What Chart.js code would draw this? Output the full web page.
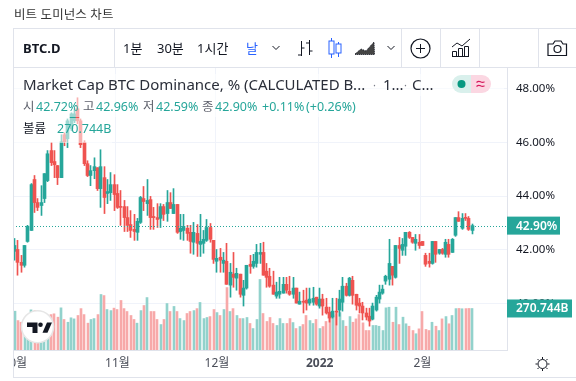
<!DOCTYPE html>
<html>
<head>
<meta charset="UTF-8" />
<title>비트 도미넌스 차트</title>
<script src="https://cdn.jsdelivr.net/npm/chart.js"></script>
<style>
  html, body { margin: 0; padding: 0; background: #fff; }
  body { width: 576px; height: 381px; overflow: hidden; position: relative; font-family: "Noto Sans", "Noto Sans CJK KR", sans-serif; color: #131722; }
  canvas { position: absolute; left: 13px; top: 0; }
  .abs { position: absolute; white-space: nowrap; }
  .line { position: absolute; background: #e0e3eb; }
  .tb { top: 39px; font-size: 13px; line-height: 18px; }
  .row { position: absolute; left: 14px; background: rgba(255,255,255,.55); white-space: nowrap; }
  .row span { position: absolute; top: 0; white-space: nowrap; }
  .v { color: #26a69a; }
  .k { color: #5d606b; }
  svg { position: absolute; overflow: visible; }
</style>
</head>
<body>
<canvas id="chart" width="563" height="378"></canvas>

<div class="abs" style="left:14px;top:6px;font-size:12.5px;line-height:18px;letter-spacing:.1px;color:#333">비트 도미넌스 차트</div>

<div class="line" style="left:13px;top:28px;width:563px;height:1px"></div>
<div class="line" style="left:13px;top:67px;width:563px;height:1px"></div>
<div class="line" style="left:13px;top:28px;width:1px;height:350px"></div>
<div class="line" style="left:13px;top:377px;width:563px;height:1px"></div>
<div class="line" style="left:114px;top:28px;width:1px;height:39px"></div>
<div class="line" style="left:401px;top:28px;width:1px;height:39px"></div>
<div class="line" style="left:440px;top:28px;width:1px;height:39px"></div>
<div class="line" style="left:479px;top:28px;width:1px;height:39px"></div>
<div class="line" style="left:538px;top:28px;width:1px;height:39px"></div>

<div class="abs tb" style="left:23px;font-weight:700">BTC.D</div>
<div class="abs tb" style="left:123px">1분</div>
<div class="abs tb" style="left:157px">30분</div>
<div class="abs tb" style="left:197px">1시간</div>
<div class="abs tb" style="left:246px;color:#2962ff">날</div>

<svg style="left:0;top:0" width="576" height="68" fill="none" stroke="#131722" stroke-width="1">
  <path d="M272.5 46l3.5 3.5 3.5-3.5"/>
  <path d="M301.5 41v15M298 55h3.5M301.5 48h3M309.5 40v15M306 43h3.5M309.5 51h3"/>
  <g stroke="#2962ff"><path d="M331.500 38v20M338.500 42v15"/><rect x="329" y="41" width="5" height="13" fill="#fff"/><rect x="336" y="44" width="5" height="9" fill="#fff"/></g>
  <path d="M355 54l6-5 5 2 8-9 .5 12.500h-19.500z" fill="#444" stroke-dasharray="1 1"/>
  <path d="M387.500 46l3.500 3.500 3.500-3.500"/>
  <circle cx="420.500" cy="48.500" r="9.500" stroke-width="1.200"/>
  <path d="M420.500 44v9M416 48.500h9"/>
  <path d="M452 47l5-4 5 3 8-7M452.500 56.500v-5h4v5M458.500 56.500v-8h4v8M464.500 56.500v-10h4v10M452 56.500h17"/>
  <path d="M548 44h5l2-3h6l2 3h3.500v11.500h-18.500z" stroke-width="1.200"/>
  <circle cx="557.500" cy="49" r="3.500" stroke-width="1.200"/>
</svg>

<div class="row" style="top:74px;width:490px;height:22px;font-size:15px;line-height:21px">
  <span style="left:9px;color:#2a2e39">Market Cap BTC Dominance, % (CALCULATED B...</span>
  <span style="left:359px;color:#787b86;font-size:11px">·</span>
  <span style="left:369px;color:#2a2e39">1...</span>
  <span style="left:390px;color:#787b86;font-size:11px">·</span>
  <span style="left:398px;color:#2a2e39">C...</span>
</div>
<div class="row" style="top:96px;width:345px;height:21px;font-size:12.5px;line-height:21px">
  <span class="k" style="left:9px">시</span><span class="v" style="left:22px">42.72%</span>
  <span class="k" style="left:69px">고</span><span class="v" style="left:82px">42.96%</span>
  <span class="k" style="left:129px">저</span><span class="v" style="left:142px">42.59%</span>
  <span class="k" style="left:188px">종</span><span class="v" style="left:201px">42.90%</span>
  <span class="v" style="left:248px">+0.11%</span><span class="v" style="left:292px">(+0.26%)</span>
</div>
<div class="row" style="top:118px;width:98px;height:25px;font-size:12.5px;line-height:22px">
  <span style="left:9px">볼륨</span><span class="v" style="left:43px">270.744B</span>
</div>

<svg style="left:0;top:0" width="576" height="381">
  <path d="M461 75h10v18h-10a9 9 0 0 1 0-18z" fill="#d9f0ec"/>
  <path d="M471 75h11a9 9 0 0 1 0 18h-11z" fill="#fbd7e2"/>
  <circle cx="461.500" cy="84" r="4" fill="#089981"/>
  <path d="M476.500 82.500q2-2 4-.7t4 0M476.500 86.500q2-2 4-.7t4 0" fill="none" stroke="#d6195d" stroke-width="1.200"/>
  <circle cx="37.500" cy="326.700" r="16" fill="#fff" stroke="#e6e6e6" stroke-width="1.500"/>
  <path d="M27 322.500h10.500v10.500h-5v-6H27z" fill="#131722"/>
  <circle cx="40.500" cy="324.800" r="2.300" fill="#131722"/>
  <path d="M42.500 332.800l4.500-10.300h5l-4.500 10.300z" fill="#131722"/>
  <g fill="none" stroke="#131722" stroke-width="1">
    <circle cx="542.500" cy="364" r="4.500"/>
    <path d="M542.500 357v2M542.500 369v2M535.500 364h2M547.500 364h2M537.500 359l1.500 1.500M546 367.500l1.500 1.500M537.500 369l1.500-1.500M546 360.500l1.500-1.500"/>
  </g>
</svg>

<script>
  // Daily candles from Oct 1.
  const opens = [
    41.94,42.01,41.53,41.42,42.31,42.72,44.62,43.76,43.65,43.91,
    44.58,45.70,45.29,45.14,44.69,46.29,46.14,46.51,46.81,47.26,
    46.81,46.00,45.21,44.77,44.95,45.06,44.28,44.69,44.10,44.13,
    44.43,44.10,43.61,43.61,43.20,42.94,42.76,42.65,43.02,43.91,
    43.72,43.87,43.24,43.20,43.17,43.61,43.35,43.76,43.35,43.69,
    42.68,42.72,42.80,42.65,42.28,42.61,42.20,42.24,42.35,42.83,
    42.35,41.57,41.72,41.49,41.57,40.68,41.09,40.94,41.09,40.30,
    40.57,41.46,41.38,41.49,41.83,41.90,41.20,41.01,40.68,40.27,
    40.34,40.38,40.71,40.45,40.34,40.57,39.97,40.08,40.12,40.01,
    40.04,40.23,39.90,40.16,39.86,39.67,39.49,39.71,39.75,40.04,
    40.64,40.30,40.86,40.34,40.01,39.90,39.64,39.52,39.41,39.75,
    40.16,40.38,40.83,40.90,41.38,40.97,42.16,41.98,42.13,42.65,
    42.46,42.24,42.28,42.31,41.79,41.57,41.49,42.31,41.87,42.01,
    41.83,42.20,41.90,42.54,43.20,42.80,43.20,43.17,42.72
  ];
  const highs = [
    42.42,42.35,41.79,42.16,42.91,44.47,44.77,43.91,44.39,44.84,
    45.70,46.00,45.70,45.14,46.29,46.36,46.88,47.11,47.26,47.67,
    46.88,46.07,45.32,45.14,45.43,45.06,45.73,45.10,44.62,44.88,
    44.80,44.43,44.21,43.84,43.61,43.46,43.32,43.17,43.99,44.36,
    44.62,43.99,43.58,43.72,43.72,43.69,44.21,44.13,44.28,43.69,
    43.32,43.32,42.91,42.91,43.02,42.94,43.32,42.72,43.13,42.98,
    42.35,42.01,42.05,41.90,42.24,41.49,41.90,41.31,41.09,40.86,
    41.42,41.79,41.83,42.20,42.24,42.28,41.49,41.31,41.20,40.79,
    40.97,40.97,40.97,41.01,40.97,40.57,40.42,40.49,40.57,40.57,
    40.60,40.23,40.57,40.34,40.19,39.86,40.19,40.19,40.49,40.97,
    40.75,40.97,41.01,40.34,40.19,40.04,39.82,39.82,40.01,40.30,
    40.68,40.68,41.05,42.39,41.38,42.16,42.46,42.42,42.65,42.68,
    42.46,42.57,42.57,42.31,41.87,41.87,42.31,42.31,42.01,42.05,
    42.39,42.39,42.42,43.20,43.42,43.35,43.35,43.24,42.96
  ];
  const lows = [
    41.61,41.05,41.16,41.35,42.28,42.72,43.39,43.46,43.28,43.76,
    44.54,45.14,44.69,44.43,44.69,45.88,45.81,46.44,46.74,46.70,
    45.81,45.14,44.73,44.39,44.65,44.21,43.58,43.35,43.72,43.84,
    43.46,43.54,42.91,42.68,42.68,42.46,42.35,42.35,42.98,43.46,
    43.28,42.76,42.76,42.83,42.83,43.09,43.06,43.54,43.35,42.61,
    42.39,42.35,42.35,41.87,41.83,41.75,41.75,41.87,42.31,42.28,
    41.49,41.16,41.16,41.16,40.71,40.23,40.60,40.49,40.23,39.90,
    40.53,41.12,41.31,41.35,41.49,41.05,40.60,40.60,40.34,40.19,
    40.19,40.38,40.38,40.30,40.19,40.01,39.97,39.64,39.75,39.93,
    39.93,39.93,39.82,39.56,39.60,39.30,39.45,39.19,39.52,39.71,
    40.27,40.27,39.97,39.75,39.64,39.38,39.38,39.15,39.38,39.71,
    40.01,40.34,40.71,40.68,40.68,40.94,41.49,41.79,41.79,42.42,
    42.24,41.98,42.05,42.16,41.38,41.35,41.46,41.53,41.83,41.83,
    41.72,41.72,41.90,42.50,43.06,42.76,43.09,42.72,42.59
  ];
  const closes = [
    42.16,41.53,41.42,42.16,42.87,44.43,43.76,43.58,43.76,44.84,
    45.58,45.25,45.17,44.69,46.03,46.03,46.81,47.07,47.07,46.81,
    45.92,45.21,44.77,44.95,45.10,44.28,45.10,43.95,44.17,44.43,
    44.06,43.58,43.58,43.20,42.91,42.72,42.68,43.06,43.95,43.80,
    43.84,43.20,43.20,43.13,43.61,43.32,43.76,43.54,43.69,42.65,
    42.80,42.87,42.61,42.31,42.65,42.24,42.31,42.39,42.83,42.39,
    41.64,41.68,41.61,41.61,40.71,41.16,40.97,41.12,40.34,40.57,
    41.42,41.38,41.57,41.90,41.90,41.05,40.97,40.64,40.34,40.42,
    40.45,40.71,40.49,40.34,40.57,40.01,40.08,40.04,40.01,40.16,
    40.19,39.97,40.16,39.90,39.64,39.45,39.71,39.67,40.16,40.64,
    40.30,40.94,40.30,39.93,39.90,39.64,39.49,39.34,39.90,40.23,
    40.42,40.53,41.01,41.49,41.05,42.16,42.05,42.20,42.65,42.46,
    42.28,42.39,42.16,42.16,41.46,41.49,42.31,41.83,42.01,41.87,
    42.28,41.83,42.39,43.20,43.06,43.17,43.17,42.76,42.90
  ];
  // Volume in billions.
  const volumes = [
    253,192,181,160,214,262,257,203,192,171,
    192,231,236,214,275,199,181,210,203,225,
    270,231,175,199,205,231,362,355,264,257,
    273,264,323,270,251,225,199,175,257,290,
    342,251,251,199,166,199,303,251,284,251,
    205,192,238,251,257,270,310,205,212,218,
    264,244,225,264,407,251,270,225,205,205,
    212,173,140,199,460,238,186,212,173,160,
    205,173,173,205,179,140,153,166,225,192,
    173,199,140,153,186,205,225,238,244,192,
    155,218,181,203,231,177,127,127,160,160,
    155,127,275,279,181,279,166,214,171,155,
    127,106,138,251,134,127,181,155,127,203,
    218,171,225,270,271,269,270,271,270.744
  ];
  // Slots on the x axis that carry a month label, the rest stay blank.
  const monthTicks = { 0: "10월", 31: "11월", 61: "12월", 92: "2022", 123: "2월" };
  const slotCount = 149;
  const priceTicks = [48, 46, 44, 42, 40];
  const lastClose = 42.90;
  const lastVolume = 270.744;

  const UP = "#26a69a";
  const DOWN = "#ef5350";
  const UP_VOL = "#92d2cc";
  const DOWN_VOL = "#f7a9a9";
  const GRID = "#f0f3fa";
  const BORDER = "#e0e3eb";
  const FONT = '"Noto Sans", "Noto Sans CJK KR", sans-serif';

  const labels = Array.from({ length: slotCount }, (_, i) => monthTicks[i] || "");
  const isUp = closes.map((c, i) => c >= opens[i]);

  // Snap the thin bars to whole pixels so wicks stay crisp.
  const snapBarsPlugin = {
    id: "snapBars",
    beforeDatasetsDraw(chart) {
      chart.data.datasets.forEach((ds, i) => {
        chart.getDatasetMeta(i).data.forEach(el => {
          el.x = ds.barThickness % 2 ? Math.floor(el.x) + 0.5 : Math.round(el.x);
        });
      });
    }
  };

  // Dotted last price line and the two boxes on the price axis.
  const lastValuePlugin = {
    id: "lastValue",
    afterDatasetsDraw(chart) {
      const { ctx, chartArea, scales } = chart;
      const y = Math.round(scales.y.getPixelForValue(lastClose)) + 0.5;
      ctx.save();
      ctx.strokeStyle = UP;
      ctx.setLineDash([1, 2]);
      ctx.beginPath();
      ctx.moveTo(chartArea.left, y);
      ctx.lineTo(chartArea.right, y);
      ctx.stroke();
      ctx.restore();
    },
    afterDraw(chart) {
      const { ctx, chartArea, scales } = chart;
      const boxes = [
        [scales.y.getPixelForValue(lastClose), lastClose.toFixed(2) + "%", 53],
        [scales.vol.getPixelForValue(lastVolume), lastVolume.toFixed(3) + "B", 65]
      ];
      ctx.save();
      ctx.font = "600 12px " + FONT;
      ctx.textBaseline = "middle";
      boxes.forEach(([y, text, w]) => {
        ctx.fillStyle = UP;
        ctx.fillRect(chartArea.right, y - 9, w, 18);
        ctx.fillStyle = "#fff";
        ctx.fillText(text, chartArea.right + 9, y + 0.5);
      });
      ctx.restore();
    }
  };

  new Chart(document.getElementById("chart"), {
    data: {
      labels: labels,
      datasets: [
        {
          type: "bar",
          label: "볼륨",
          yAxisID: "vol",
          data: volumes,
          backgroundColor: isUp.map(u => (u ? UP_VOL : DOWN_VOL)),
          barThickness: 2,
          order: 3
        },
        {
          type: "bar",
          label: "wick",
          yAxisID: "y",
          data: lows.map((l, i) => [l, highs[i]]),
          backgroundColor: isUp.map(u => (u ? UP : DOWN)),
          barThickness: 1,
          order: 2
        },
        {
          type: "bar",
          label: "body",
          yAxisID: "y",
          data: opens.map((o, i) => [Math.min(o, closes[i]), Math.max(o, closes[i])]),
          backgroundColor: isUp.map(u => (u ? UP : DOWN)),
          barThickness: 3,
          minBarLength: 1,
          order: 1
        }
      ]
    },
    options: {
      responsive: false,
      animation: false,
      layout: { padding: { top: 68, left: 0, right: 0, bottom: 0 } },
      plugins: { legend: { display: false }, tooltip: { enabled: false }, title: { display: false } },
      datasets: { bar: { grouped: false } },
      scales: {
        x: {
          type: "category",
          offset: true,
          grid: {
            drawTicks: false,
            color: ctx => (ctx.tick && ctx.tick.label ? GRID : "transparent")
          },
          border: { color: BORDER },
          ticks: {
            autoSkip: false,
            maxRotation: 0,
            minRotation: 0,
            padding: 6,
            color: "#4a4e59",
            font: ctx => ({
              family: FONT,
              size: 12,
              weight: ctx.tick && ctx.tick.label === "2022" ? "700" : "400"
            })
          },
          afterFit(scale) {
            scale.height = 28;
            scale.paddingLeft = 0;
            scale.paddingRight = 0;
          }
        },
        y: {
          position: "right",
          min: 38.26,
          max: 48.78,
          grid: { drawTicks: false, color: GRID },
          border: { color: BORDER },
          ticks: {
            padding: 9,
            color: "#131722",
            font: { family: FONT, size: 11.5 },
            callback: v => v.toFixed(2) + "%"
          },
          afterBuildTicks(scale) {
            scale.ticks = priceTicks.map(v => ({ value: v }));
          },
          afterFit(scale) {
            scale.width = 69;
          }
        },
        vol: {
          display: false,
          position: "left",
          min: 0,
          max: 1839
        }
      }
    },
    plugins: [snapBarsPlugin, lastValuePlugin]
  });
</script>
</body>
</html>
